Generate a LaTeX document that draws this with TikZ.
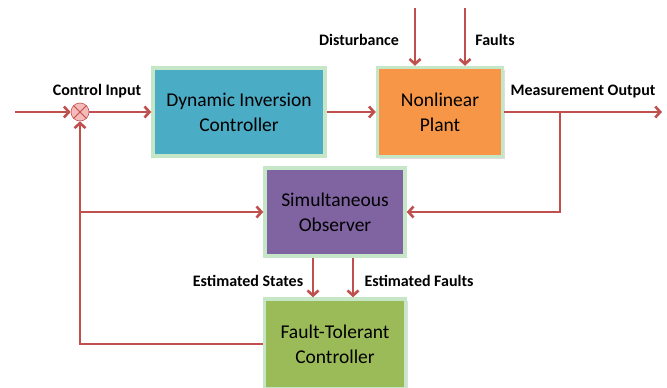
\documentclass[tikz,border=0pt]{standalone}
\usepackage{fontspec}
\setmainfont{Carlito}
\usepackage{tikz}
\usepackage{xcolor}
\usetikzlibrary{arrows.meta,positioning,calc,shadows}
\definecolor{cLine}{HTML}{C0504D}
\definecolor{cRim}{HTML}{C6E6C8}
\definecolor{cDI}{HTML}{4BACC6}
\definecolor{cPl}{HTML}{F79646}
\definecolor{cOb}{HTML}{8064A2}
\definecolor{cFt}{HTML}{9BBB59}
\definecolor{cSum}{HTML}{F6BABA}
\tikzset{
  blk/.style={rectangle,draw=cRim,line width=3.5pt,align=center,
    font=\fontsize{19.5}{25}\selectfont,
    drop shadow={shadow xshift=2pt,shadow yshift=-2pt,fill=black!25}},
  junction/.style={circle,draw=cLine,fill=cSum,line width=0.6pt,minimum size=18pt,inner sep=0pt},
  sig/.style={-{Straight Barb[length=5pt,width=11pt]},line width=2.6pt,cLine},
  lbl/.style={font=\fontsize{16}{19}\selectfont\bfseries},
}

\begin{document}
\begin{tikzpicture}[x=1pt,y=-1pt]
  \clip (0,0) rectangle (667,388);
  \fill[white] (0,0) rectangle (667,388);
  % blocks
  \node[blk,fill=cDI,minimum width=172pt,minimum height=88pt] (dic) at (239,112) {Dynamic Inversion\\Controller};
  \node[blk,fill=cPl,minimum width=125pt,minimum height=89pt] (plant) at (440,112) {Nonlinear\\Plant};
  \node[blk,fill=cOb,minimum width=140pt,minimum height=88pt] (obs) at (335,212) {Simultaneous\\Observer};
  \node[blk,fill=cFt,minimum width=141pt,minimum height=90pt] (ftc) at (335,344) {Fault-Tolerant\\Controller};
  \node[junction] (sum) at (80,112) {};
  \draw[cLine,line width=0.8pt] (sum.north west) -- (sum.south east) (sum.north east) -- (sum.south west);
  % free ends
  \coordinate (in) at (15,112);
  \coordinate (out) at (662,112);
  \coordinate (br) at (560,112);
  \coordinate (dist) at (415,8);
  \coordinate (flt) at (465,8);
  \coordinate (fb) at (80,212);
  \coordinate (es) at (313,258);
  \coordinate (ef) at (353,258);
  % signals
  \draw[sig] (in) -- (sum);
  \draw[sig] (sum) -- (dic);
  \draw[sig] (dic) -- (plant);
  \draw[sig] (dist) -- (dist |- plant.north);
  \draw[sig] (flt) -- (flt |- plant.north);
  \draw[sig] (plant) -- (out);
  \draw[sig] (br) |- (obs);
  \draw[sig] (fb) -- (obs);
  \draw[sig] (ftc) -| (sum);
  \draw[sig] (es |- obs.south) -- (es |- ftc.north);
  \draw[sig] (ef |- obs.south) -- (ef |- ftc.north);
  % labels
  \node[lbl] (lin) at (97,91) {Control Input};
  \node[lbl] (ldist) at (359,40) {Disturbance};
  \node[lbl] (lflt) at (495,40) {Faults};
  \node[lbl] (lout) at (583,92) {Measurement Output};
  \node[lbl] (les) at (248,281) {Estimated States};
  \node[lbl] (lef) at (419,281) {Estimated Faults};
\end{tikzpicture}
\end{document}
